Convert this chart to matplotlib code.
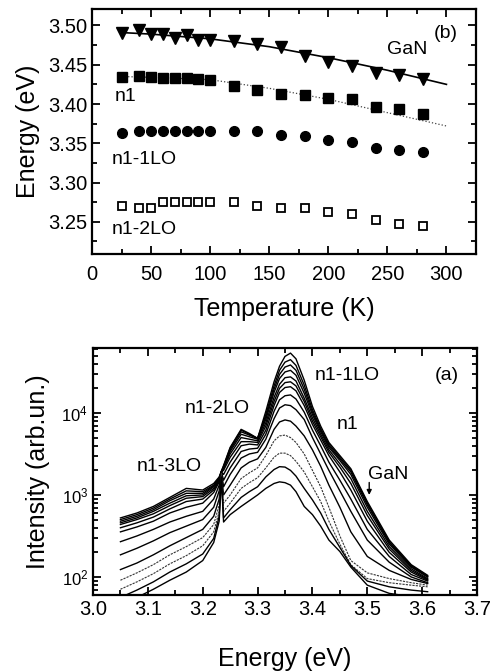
import matplotlib
matplotlib.use("Agg")
import matplotlib.pyplot as plt
from matplotlib.ticker import MultipleLocator, LogLocator, NullFormatter
import numpy as np

plt.rcParams['font.family'] = ['Liberation Sans', 'DejaVu Sans']

# ---- panel (b): peak energies vs temperature ----
temp = [25, 40, 50, 60, 70, 80, 90, 100, 120, 140, 160, 180, 200, 220, 240, 260, 280]
e_gan = [3.490, 3.494, 3.489, 3.489, 3.484, 3.488, 3.482, 3.482, 3.480, 3.477,
         3.472, 3.461, 3.454, 3.448, 3.440, 3.4375, 3.432]
e_n1 = [3.435, 3.436, 3.435, 3.433, 3.433, 3.433, 3.432, 3.431, 3.423, 3.418,
        3.413, 3.411, 3.408, 3.406, 3.396, 3.393, 3.3875]
e_1lo = [3.363, 3.3655, 3.3655, 3.3655, 3.3655, 3.3655, 3.3655, 3.3655, 3.366, 3.365,
         3.361, 3.359, 3.354, 3.351, 3.3445, 3.341, 3.339]
e_2lo = [3.270, 3.268, 3.268, 3.2746, 3.2746, 3.2746, 3.2746, 3.2746, 3.275, 3.270,
         3.268, 3.268, 3.263, 3.260, 3.2525, 3.247, 3.245]

# fit curves
gan_fit_t = [25, 50, 100, 150, 200, 250, 300]
gan_fit_e = [3.491, 3.489, 3.483, 3.473, 3.459, 3.443, 3.425]
n1_fit_t = [25, 50, 100, 150, 200, 250, 300]
n1_fit_e = [3.435, 3.434, 3.431, 3.420, 3.406, 3.389, 3.372]

# ---- panel (a): PL spectra, log10 intensity on a common energy grid ----
energy = [3.05, 3.08, 3.11, 3.14, 3.17, 3.20, 3.22, 3.230, 3.234, 3.238,
          3.25, 3.27, 3.285, 3.30, 3.315, 3.33, 3.34, 3.35, 3.36, 3.37,
          3.385, 3.40, 3.415, 3.43, 3.45, 3.47, 3.50, 3.54, 3.58, 3.61]

spec_01 = [2.72, 2.78, 2.86, 2.97, 3.08, 3.06, 3.14, 3.22, 3.29, 3.36, 3.58, 3.80, 3.75, 3.69, 4.02, 4.38, 4.57, 4.69, 4.73, 4.66,
           4.40, 4.08, 3.84, 3.64, 3.48, 3.32, 2.92, 2.45, 2.15, 2.02]
spec_02 = [2.70, 2.76, 2.84, 2.95, 3.05, 3.04, 3.12, 3.21, 3.29, 3.35, 3.57, 3.79, 3.74, 3.69, 3.98, 4.33, 4.52, 4.62, 4.65, 4.58,
           4.34, 4.04, 3.81, 3.62, 3.46, 3.30, 2.90, 2.43, 2.14, 2.01]
spec_03 = [2.68, 2.74, 2.82, 2.93, 3.02, 3.02, 3.11, 3.20, 3.28, 3.34, 3.55, 3.77, 3.73, 3.69, 3.95, 4.29, 4.47, 4.56, 4.585, 4.52,
           4.29, 4.01, 3.79, 3.60, 3.44, 3.28, 2.88, 2.42, 2.13, 2.00]
spec_04 = [2.66, 2.72, 2.80, 2.90, 2.99, 3.00, 3.10, 3.19, 3.28, 3.33, 3.53, 3.74, 3.71, 3.68, 3.92, 4.25, 4.42, 4.50, 4.52, 4.46,
           4.24, 3.98, 3.77, 3.58, 3.42, 3.25, 2.85, 2.40, 2.12, 2.00]
spec_05 = [2.64, 2.70, 2.77, 2.87, 2.96, 2.98, 3.08, 3.18, 3.28, 3.32, 3.50, 3.70, 3.68, 3.66, 3.88, 4.19, 4.35, 4.43, 4.44, 4.39,
           4.18, 3.94, 3.74, 3.55, 3.38, 3.20, 2.80, 2.37, 2.10, 1.98]
spec_06 = [2.60, 2.66, 2.73, 2.83, 2.92, 2.95, 3.06, 3.17, 3.28, 3.30, 3.46, 3.65, 3.65, 3.64, 3.84, 4.14, 4.30, 4.37, 4.38, 4.33,
           4.14, 3.90, 3.71, 3.52, 3.34, 3.14, 2.75, 2.34, 2.08, 1.97]
spec_07 = [2.55, 2.61, 2.68, 2.78, 2.85, 2.90, 3.03, 3.16, 3.28, 3.25, 3.40, 3.60, 3.62, 3.61, 3.79, 4.09, 4.25, 4.31, 4.32, 4.27,
           4.09, 3.86, 3.67, 3.48, 3.28, 3.06, 2.68, 2.30, 2.06, 1.96]
spec_08 = [2.43, 2.50, 2.58, 2.67, 2.74, 2.80, 2.95, 3.12, 3.28, 3.18, 3.33, 3.53, 3.56, 3.57, 3.74, 4.02, 4.16, 4.21, 4.22, 4.17,
           4.01, 3.79, 3.60, 3.40, 3.18, 2.95, 2.58, 2.25, 2.03, 1.95]
spec_09 = [2.27, 2.35, 2.44, 2.54, 2.62, 2.70, 2.85, 3.05, 3.28, 3.10, 3.25, 3.45, 3.50, 3.52, 3.68, 3.93, 4.06, 4.10, 4.09, 4.04,
           3.92, 3.70, 3.50, 3.30, 3.05, 2.80, 2.45, 2.18, 2.00, 1.93]
spec_10 = [2.09, 2.17, 2.27, 2.38, 2.48, 2.58, 2.74, 2.95, 3.27, 3.00, 3.12, 3.33, 3.40, 3.44, 3.58, 3.80, 3.89, 3.915, 3.90, 3.84,
           3.72, 3.55, 3.35, 3.12, 2.85, 2.55, 2.25, 2.08, 1.97, 1.92]
spec_11 = [1.96, 2.05, 2.15, 2.27, 2.37, 2.48, 2.64, 2.88, 3.26, 2.90, 3.00, 3.20, 3.27, 3.33, 3.48, 3.66, 3.72, 3.73, 3.70, 3.64,
           3.50, 3.30, 3.10, 2.85, 2.50, 2.20, 2.05, 1.98, 1.93, 1.90]
spec_12 = [1.85, 1.94, 2.04, 2.16, 2.26, 2.38, 2.55, 2.80, 3.24, 2.80, 2.90, 3.08, 3.15, 3.21, 3.33, 3.46, 3.51, 3.51, 3.48, 3.41,
           3.28, 3.10, 2.92, 2.68, 2.40, 2.15, 1.98, 1.93, 1.90, 1.88]
spec_13 = [1.75, 1.84, 1.94, 2.06, 2.16, 2.28, 2.47, 2.74, 3.22, 2.72, 2.82, 2.97, 3.04, 3.10, 3.22, 3.31, 3.345, 3.34, 3.30, 3.23,
           3.08, 2.94, 2.78, 2.58, 2.36, 2.14, 1.95, 1.88, 1.84, 1.82]
spec_14 = [1.68, 1.75, 1.85, 1.96, 2.06, 2.20, 2.42, 2.68, 3.20, 2.67, 2.76, 2.86, 2.93, 3.00, 3.08, 3.14, 3.16, 3.15, 3.12, 3.04,
           2.86, 2.76, 2.62, 2.45, 2.31, 2.12, 1.90, 1.80, 1.76, 1.74]
spectra = [spec_01, spec_02, spec_03, spec_04, spec_05, spec_06, spec_07,
           spec_08, spec_09, spec_10, spec_11, spec_12, spec_13, spec_14]

fig = plt.figure(figsize=(4.94, 6.71), dpi=100)
ax_b = fig.add_axes([0.1862, 0.6215, 0.7773, 0.3651])
ax_a = fig.add_axes([0.1883, 0.1133, 0.7773, 0.3681])

TICK = 14.5
LAB = 18
ANN = 14

# panel (b)
ax_b.plot(gan_fit_t, gan_fit_e, '-', color='black', lw=1.2)
ax_b.plot(n1_fit_t, n1_fit_e, ':', color='#444444', lw=0.9)
ax_b.plot(temp, e_gan, 'v', color='black', ms=8)
ax_b.plot(temp, e_n1, 's', color='black', ms=6.5)
ax_b.plot(temp, e_1lo, 'o', color='black', ms=7)
ax_b.plot(temp, e_2lo, 's', mfc='white', mec='black', mew=1.3, ms=6)
ax_b.set_xlim(0, 325)
ax_b.set_ylim(3.209, 3.521)
ax_b.xaxis.set_major_locator(MultipleLocator(50))
ax_b.xaxis.set_minor_locator(MultipleLocator(25))
ax_b.yaxis.set_major_locator(MultipleLocator(0.05))
ax_b.yaxis.set_minor_locator(MultipleLocator(0.025))
ax_b.yaxis.set_major_formatter(matplotlib.ticker.FormatStrFormatter('%.2f'))
ax_b.set_xlabel('Temperature (K)', fontsize=LAB, labelpad=9)
ax_b.set_ylabel('Energy (eV)', fontsize=LAB, labelpad=6)
ax_b.text(250, 3.469, 'GaN', fontsize=ANN, ha='left', va='center')
ax_b.text(289, 3.4895, '(b)', fontsize=ANN, ha='left', va='center')
ax_b.text(19.4, 3.410, 'n1', fontsize=ANN, ha='left', va='center')
ax_b.text(16.6, 3.3296, 'n1-1LO', fontsize=ANN, ha='left', va='center')
ax_b.text(16.6, 3.2407, 'n1-2LO', fontsize=ANN, ha='left', va='center')

# panel (a)
for i, s in enumerate(spectra):
    if i in (10, 11):
        ax_a.plot(energy, np.power(10.0, s), color='#333333', lw=0.8, ls=(0, (2, 1)))
    else:
        ax_a.plot(energy, np.power(10.0, s), color='black', lw=1.0)
ax_a.set_yscale('log')
ax_a.set_xlim(3.0, 3.7)
ax_a.set_ylim(60.3, 6.2e4)
ax_a.xaxis.set_major_locator(MultipleLocator(0.1))
ax_a.xaxis.set_minor_locator(MultipleLocator(0.05))
ax_a.xaxis.set_major_formatter(matplotlib.ticker.FormatStrFormatter('%.1f'))
ax_a.yaxis.set_major_locator(LogLocator(base=10, numticks=10))
ax_a.yaxis.set_minor_locator(LogLocator(base=10, subs=np.arange(2, 10), numticks=10))
ax_a.yaxis.set_minor_formatter(NullFormatter())
ax_a.set_xlabel('Energy (eV)', fontsize=LAB, labelpad=20)
ax_a.set_ylabel('Intensity (arb.un.)', fontsize=LAB, labelpad=8)
ax_a.text(3.405, 2.9e4, 'n1-1LO', fontsize=ANN, ha='left', va='center')
ax_a.text(3.623, 2.9e4, '(a)', fontsize=ANN, ha='left', va='center')
ax_a.text(3.168, 1.14e4, 'n1-2LO', fontsize=ANN, ha='left', va='center')
ax_a.text(3.444, 7140, 'n1', fontsize=ANN, ha='left', va='center')
ax_a.text(3.0797, 2213, 'n1-3LO', fontsize=ANN, ha='left', va='center')
ax_a.text(3.502, 1754, 'GaN', fontsize=ANN, ha='left', va='center')
ax_a.annotate('', xy=(3.5035, 1.0e3), xytext=(3.5035, 1.42e3),
              arrowprops=dict(arrowstyle='-|>', color='black', lw=1.0,
                              mutation_scale=7, shrinkA=0, shrinkB=0))

for ax in (ax_a, ax_b):
    for sp in ax.spines.values():
        sp.set_linewidth(1.6)
    ax.tick_params(which='both', direction='in', top=True, right=True, width=1.3)
    ax.tick_params(which='major', length=6, labelsize=TICK)
    ax.tick_params(which='minor', length=3.5)
ax_a.tick_params(axis='y', which='major', labelsize=12)
ax_b.tick_params(axis='x', which='major', pad=8)

fig.savefig('out.png', dpi=100)
